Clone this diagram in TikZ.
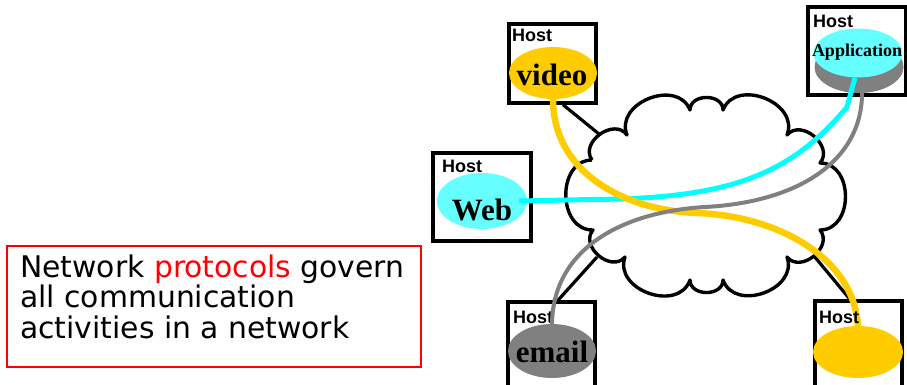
\documentclass[tikz,border=0pt]{standalone}
\usepackage{fontspec}
\setmainfont{Liberation Serif}
\newfontfamily\hostfont{Liberation Sans}
\newfontfamily\notefont{DejaVu Sans}
\usetikzlibrary{shapes.geometric}
\definecolor{gold}{HTML}{FFCC00}
\definecolor{aqua}{HTML}{66FFFF}
\definecolor{cyanline}{HTML}{00FFFF}
\definecolor{midgray}{HTML}{808080}

\begin{document}
\begin{tikzpicture}[x=1pt,y=-1pt,
  hostbox/.style={draw=black, line width=3.4pt, rectangle, inner sep=0pt},
  hostlabel/.style={anchor=base west, inner sep=0pt, font=\hostfont\bfseries\fontsize{18}{18}\selectfont},
  appblob/.style={ellipse, inner sep=0pt, minimum width=89pt, minimum height=52pt},
  applabel/.style={anchor=base, inner sep=0pt, font=\bfseries\fontsize{31}{31}\selectfont},
  wire/.style={draw=black, line width=3.2pt},
  cloudline/.style={draw=black, line width=3.4pt, line join=round},
  puff/.style={bend left=90, looseness=1.3},
  notetext/.style={anchor=base west, inner sep=0pt, font=\notefont\fontsize{29.8}{30.5}\selectfont}
]
\useasboundingbox (0,0) rectangle (907,385);

% note box
\node[draw=red, line width=2.2pt, rectangle, minimum width=414pt, minimum height=121pt, inner sep=0pt] (note) at (214,306.5) {};
\node[notetext] (n1) at (20,277) {Network \textcolor{red}{protocols} govern};
\node[notetext] (n2) at (20,307.5) {all communication};
\node[notetext] (n3) at (20,338) {activities in a network};

% host boxes
\node[hostbox, minimum width=87pt, minimum height=79pt] (vbox) at (552.5,63.5) {};
\node[hostbox, minimum width=98pt, minimum height=88pt] (abox) at (857,51) {};
\node[hostbox, minimum width=98pt, minimum height=88pt] (wbox) at (482,197) {};
\node[hostbox, minimum width=87pt, minimum height=93pt] (ebox) at (551.5,348.5) {};
\node[hostbox, minimum width=87pt, minimum height=94pt] (bbox) at (858.5,348) {};

\node[hostlabel] (vhost) at (512,42) {Host};
\node[hostlabel] (ahost) at (813,28) {Host};
\node[hostlabel] (whost) at (442,172) {Host};
\node[hostlabel] (ehost) at (513,323) {Host};

% the network cloud
\draw[cloudline] (592,160) coordinate (c1)
  to[puff] (627,135) coordinate (c2)
  to[puff] (690,110) coordinate (c3)
  to[puff] (723,110) coordinate (c4)
  to[puff] (787,135) coordinate (c5)
  to[puff] (820,163) coordinate (c6)
  to[puff] (820,230) coordinate (c7)
  to[puff] (787,257) coordinate (c8)
  to[puff] (723,280) coordinate (c9)
  to[puff] (690,280) coordinate (c10)
  to[puff] (625,257) coordinate (c11)
  to[puff] (593,230) coordinate (c12)
  to[puff] (592,160);

\coordinate (cv) at (599,134);
\coordinate (ce) at (597,257);
\coordinate (cb) at (814,256);
\draw[wire] ([xshift=10.5pt]vbox.south) -- (cv);
\draw[wire] ([xshift=6.5pt]ebox.north) -- (ce);
\draw[wire] ([xshift=-8.5pt]bbox.north) -- (cb);

% applications
\node[appblob, fill=gold, minimum width=88pt] (video) at (553,73) {};
\node[appblob, fill=midgray] (ashadow) at (859,67) {};
\node[appblob, fill=aqua, minimum height=49pt] (app) at (858,53) {};
\node[appblob, fill=aqua, minimum width=90pt, minimum height=56pt] (web) at (482,201) {};
\node[appblob, fill=midgray, minimum width=88pt, minimum height=54pt] (email) at (552,351) {};
\node[appblob, fill=gold, minimum width=90pt] (other) at (858,352) {};

% communication paths
\draw[cyanline, line width=5pt] ([xshift=-8pt]web.east) -- (590,199.5)
  .. controls (730,199) and (790,175) .. (847,107) -- ([xshift=-3pt]app.south);
\draw[gold, line width=6.5pt] (video.south) .. controls (553,170) and (620,210) .. (697,213)
  .. controls (780,216) and (857,260) .. ([yshift=-4pt]other.north);
\draw[midgray, line width=4pt] (email.north) .. controls (553,250) and (620,212) .. (705,207)
  .. controls (800,202) and (862,160) .. ([xshift=3pt]ashadow.south);

\node[hostlabel] (bhost) at (819,323) {Host};

% application names
\node[applabel] (videotxt) at (552,86) {video};
\node[applabel] (webtxt) at (482,220) {Web};
\node[applabel] (emailtxt) at (552,362) {email};
\node[applabel, font=\bfseries\fontsize{18}{18}\selectfont] (apptxt) at (857,57) {Application};
\end{tikzpicture}
\end{document}
